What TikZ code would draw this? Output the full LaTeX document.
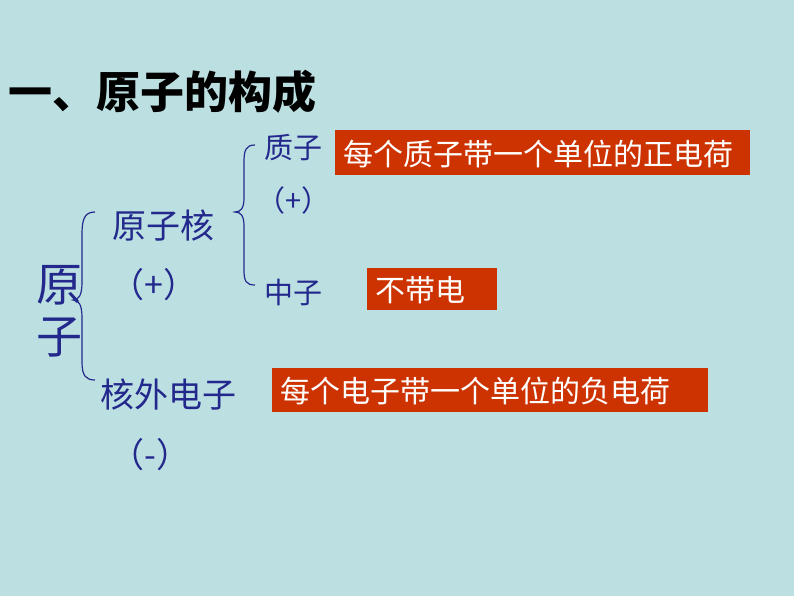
\documentclass[tikz,border=0pt]{standalone}
\usepackage{fontspec}
\setmainfont{Noto Sans CJK SC}
\definecolor{bg}{RGB}{188,224,226}
\definecolor{rb}{RGB}{204,51,0}
\definecolor{tb}{RGB}{35,40,140}
\begin{document}
\begin{tikzpicture}[x=1pt,y=-1pt,
 lab/.style={text=tb,font=\fontsize{34}{34}\selectfont,inner sep=0,anchor=west},
 rtext/.style={text=white,font=\fontsize{30}{30}\selectfont,inner sep=0,anchor=west},
 brc/.style={draw=tb,line width=1.2pt}]
\fill[bg] (0,0) rectangle (794,596);
\useasboundingbox (0,0) rectangle (794,596);
\node[font=\bfseries\fontsize{44}{44}\selectfont,anchor=west,inner sep=0] (title) at (8,92) {一、原子的构成};
\node[lab,font=\fontsize{46}{46}\selectfont] (y1) at (36,285) {原};
\node[lab,font=\fontsize{46}{46}\selectfont] (y2) at (36,337) {子};
\draw[brc] (95,212) .. controls (84,212) and (82,220) .. (82,235) -- (82,282) .. controls (82,295) and (79,300) .. (73,300) .. controls (79,300) and (82,305) .. (82,318) -- (82,362) .. controls (82,376) and (86,380) .. (95,380);
\node[lab] (hz) at (112,226) {原子核};
\node[lab] (hzp) at (110,285) {（+）};
\draw[brc] (255,145) .. controls (246,145) and (244,150) .. (244,162) -- (244,198) .. controls (244,208) and (241,212) .. (235,212) .. controls (241,212) and (244,216) .. (244,226) -- (244,270) .. controls (244,281) and (246,285) .. (255,285);
\node[lab,font=\fontsize{29}{29}\selectfont] (zz) at (264,148) {质子};
\node[lab,font=\fontsize{29}{29}\selectfont] (zzp) at (256,200) {（+）};
\node[lab,font=\fontsize{29}{29}\selectfont] (cz) at (264,292) {中子};
\node[lab] (dz) at (100,395) {核外电子};
\node[lab] (dzm) at (110,455) {（-）};
\path[fill=rb] (335,130) rectangle (750,175);
\node[rtext] (r1) at (343,154) {每个质子带一个单位的正电荷};
\path[fill=rb] (367,268) rectangle (497,310);
\node[rtext] (r2) at (375,290) {不带电};
\path[fill=rb] (272,368) rectangle (708,412);
\node[rtext] (r3) at (280,391) {每个电子带一个单位的负电荷};
\end{tikzpicture}
\end{document}
